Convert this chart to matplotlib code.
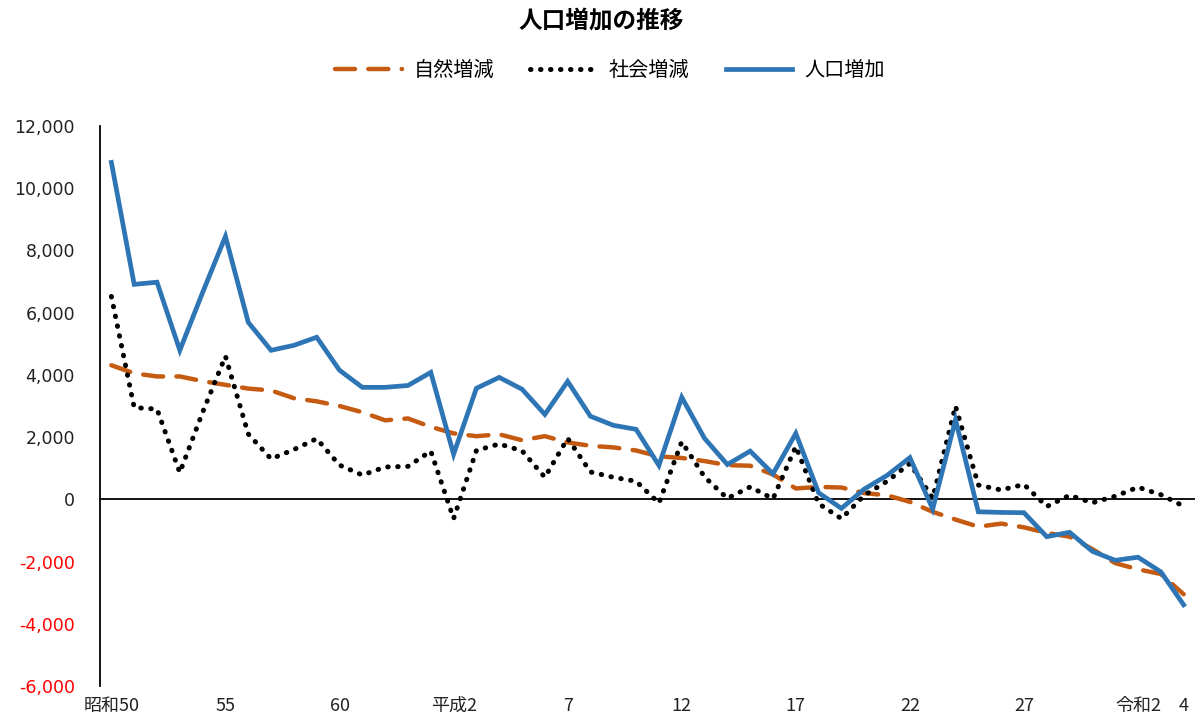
import matplotlib.pyplot as plt
import numpy as np

plt.rcParams['font.family'] = ['Noto Sans CJK JP', 'DejaVu Sans']

# 昭和50 (1975) - 令和4 (2022)
years = list(range(1975, 2023))

shizen = [4310, 4050, 3950, 3950, 3800, 3680, 3560, 3500, 3250, 3150,
          3000, 2800, 2540, 2600, 2330, 2120, 2030, 2090, 1900, 2030,
          1830, 1720, 1670, 1570, 1380, 1330, 1230, 1100, 1080, 800,
          350, 400, 380, 200, 130, -80, -400, -650, -880, -780,
          -900, -1080, -1200, -1600, -2050, -2250, -2400, -3050]

shakai = [6520, 2950, 2900, 860, 2800, 4600, 2100, 1300, 1600, 1950,
          1100, 780, 1040, 1060, 1550, -620, 1570, 1780, 1560, 710,
          1960, 880, 710, 580, -120, 1850, 720, 30, 400, 20,
          1700, -140, -620, 130, 580, 1150, 40, 3000, 460, 300,
          480, -230, 130, -110, 100, 390, 150, -220]

jinko = [10830, 6910, 6980, 4790, 6650, 8450, 5690, 4790, 4950, 5210,
         4150, 3600, 3600, 3660, 4080, 1450, 3570, 3920, 3540, 2730,
         3790, 2670, 2380, 2250, 1090, 3280, 1960, 1120, 1550, 820,
         2120, 210, -290, 330, 770, 1340, -310, 2560, -400, -420,
         -430, -1200, -1060, -1670, -1960, -1860, -2330, -3390]

tick_idx = [0, 5, 10, 15, 20, 25, 30, 35, 40, 45, 47]
tick_labels = ['昭和50', '55', '60', '平成2', '7', '12', '17', '22', '27', '令和2', '4']

yticks = list(range(-6000, 12001, 2000))

fig = plt.figure(figsize=(12.03, 7.2), dpi=100)
ax = fig.add_axes([0.0831, 0.0472, 0.9103, 0.7778])

x = np.arange(len(years))
ax.plot(x, shizen, color='#C55A11', lw=3.2, linestyle=(0, (4.5, 3.0)),
        dash_capstyle='round', label='自然増減')
ax.plot(x, shakai, color='black', lw=3.6, linestyle=(0, (0.1, 1.9)),
        dash_capstyle='round', label='社会増減')
ax.plot(x, jinko, color='#2E75B6', lw=3.4, solid_joinstyle='miter',
        label='人口増加')

ax.axhline(0, color='black', lw=1.3, zorder=1)

ax.set_xlim(-0.5, len(years) - 0.5)
ax.set_ylim(-6000, 12000)

ax.set_yticks(yticks)
ax.set_yticklabels([f'{v:,}' for v in yticks], fontsize=12.5, family='DejaVu Sans')
for lab, v in zip(ax.get_yticklabels(), yticks):
    lab.set_color('#FF0000' if v < 0 else '#222222')

ax.set_xticks(tick_idx)
ax.set_xticklabels(tick_labels, fontsize=13, color='#222222')
ax.tick_params(axis='x', length=0, pad=8)
ax.tick_params(axis='y', length=0, pad=18)

for s in ['top', 'right', 'bottom']:
    ax.spines[s].set_visible(False)
ax.spines['left'].set_linewidth(1.3)

fig.text(0.5, 0.972, '人口増加の推移', ha='center', va='center',
         fontsize=17, fontweight='bold')
fig.legend(loc='center', bbox_to_anchor=(0.507, 0.902), ncol=3, frameon=False,
           fontsize=14.5, handlelength=3.3, handletextpad=0.6, columnspacing=1.8)

fig.savefig('out.png', dpi=100)
